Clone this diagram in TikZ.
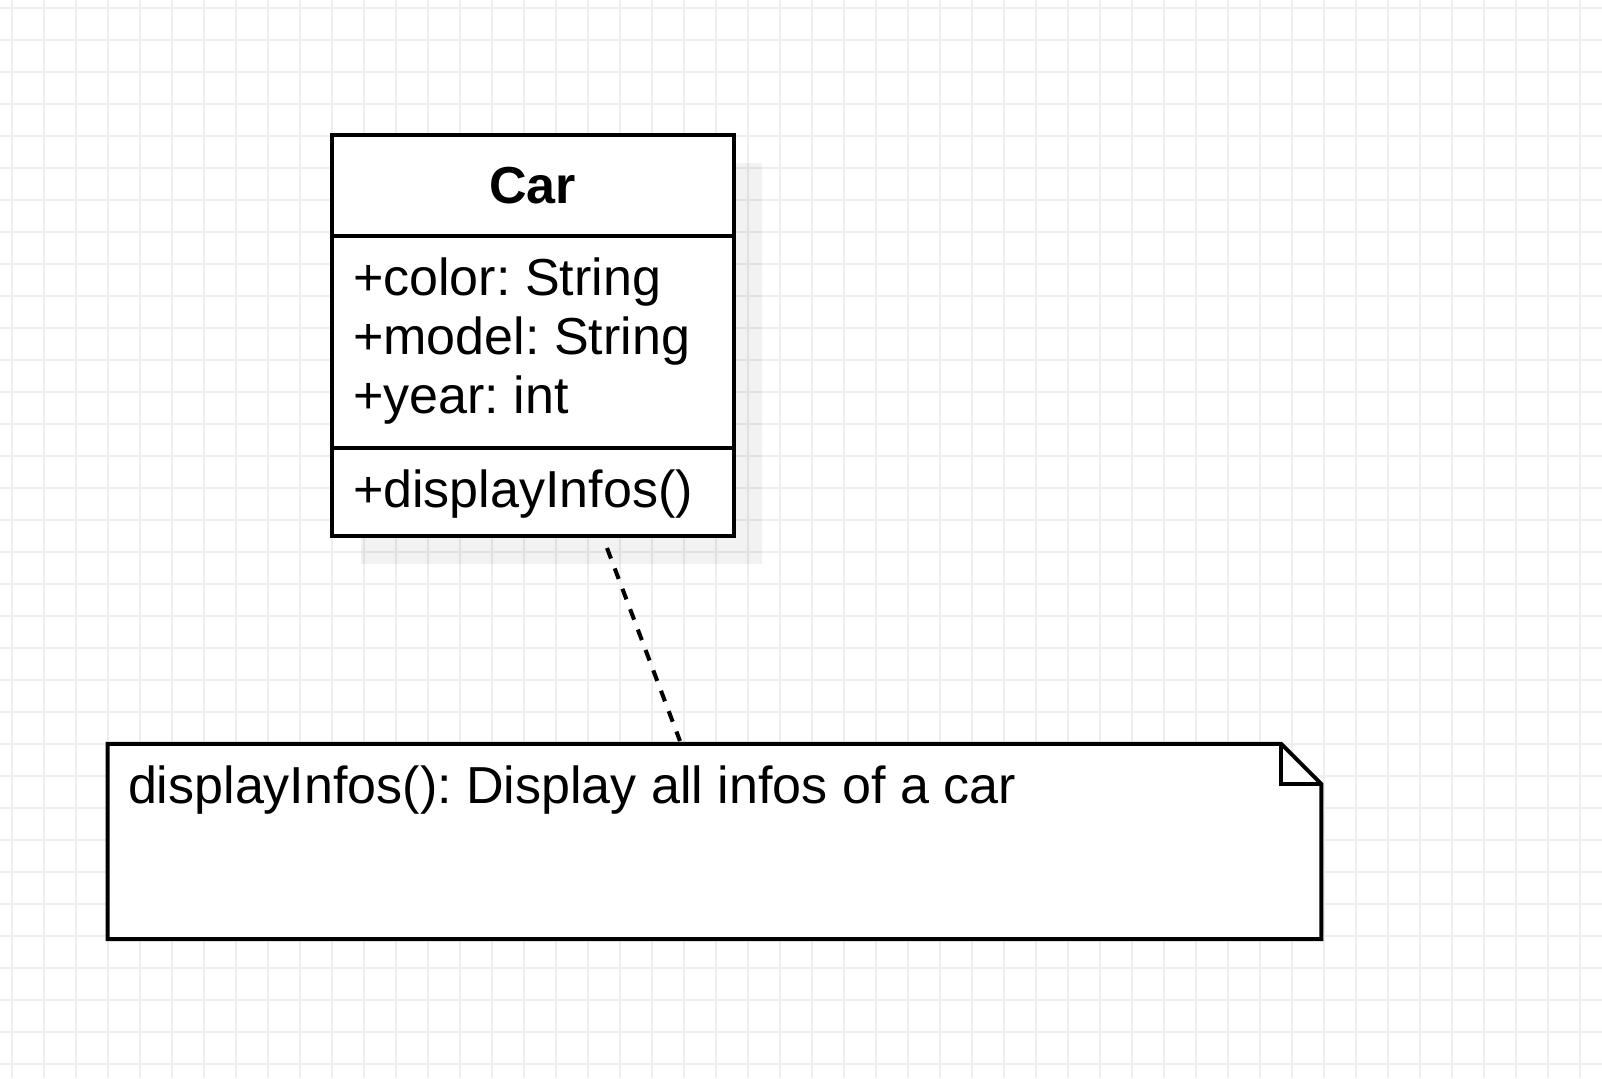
\documentclass[tikz,border=0pt]{standalone}
\usepackage{fontspec}
\setmainfont{Liberation Sans}
\usepackage{tikz}
\usetikzlibrary{arrows.meta, positioning, calc}
\definecolor{gridgray}{HTML}{EEEEEE}
\frenchspacing

\begin{document}
\begin{tikzpicture}[
  x=0.01cm, y=-0.01cm,
  every node/.style = {font=\fontsize{14.8pt}{17pt}\selectfont, inner sep=0pt, outer sep=0pt},
  gridline/.style   = {draw=gridgray, line width=0.3pt},
  umlpart/.style    = {rectangle, draw=black, fill=white, line width=1.15pt,
                       minimum width=4.015cm, minimum height=#1},
  umlshadow/.style  = {fill=black, fill opacity=0.05},
  umlline/.style    = {draw=black, line width=1.15pt, line join=miter},
  membertext/.style = {anchor=base west},
  notelink/.style   = {draw=black, line width=1.15pt, dash pattern=on 3.2pt off 3pt},
]

%% ══ BACKGROUND GRID ══════════════════════════════════════════════════════
\useasboundingbox (0,0) rectangle (1602,1078);
\fill[white] (0,0) rectangle (1602,1078);
\foreach \gx in {12,44,...,1600} \draw[gridline] (\gx,0) -- (\gx,1078);
\foreach \gy in {8,40,...,1078}  \draw[gridline] (0,\gy) -- (1602,\gy);

%% ══ CLASS: Car ═══════════════════════════════════════════════════════════
\fill[umlshadow] (360.5,163) rectangle (761.5,563.5);

\node[umlpart=1.01cm]  at (532.75,185.5) (carhead) {};
\node[umlpart=2.115cm, anchor=north] at (carhead.south) (carattrs) {};
\node[umlpart=0.88cm,  anchor=north] at (carattrs.south) (carmethods) {};

\node[anchor=base, font=\fontsize{14.8pt}{17pt}\selectfont\bfseries]
  at (532.75,203) (carname) {Car};

\node[membertext] at (353,295) (attrcolor) {+color: String};
\node[membertext] at (353,354) (attrmodel) {+model: String};
\node[membertext] at (353,413) (attryear)  {+year: int};
\node[membertext] at (353,507) (opdisplay) {+displayInfos()};

%% ══ NOTE ═════════════════════════════════════════════════════════════════
\node[rectangle, minimum width=12.13cm, minimum height=1.95cm]
  at (714.5,841.5) (note) {};
\draw[umlline, fill=white]
  (note.north west) -- ([xshift=-0.4cm]note.north east)
  -- ([yshift=-0.4cm]note.north east) -- (note.south east)
  -- (note.south west) -- cycle;
\draw[umlline]
  ([xshift=-0.4cm]note.north east) -- ([xshift=-0.4cm, yshift=-0.4cm]note.north east)
  -- ([yshift=-0.4cm]note.north east);

\node[membertext] at (128,803) (notetext) {displayInfos(): Display all infos of a car};

%% ── Dashed anchor line: method to note ───────────────────────────────────
\coordinate (linkstart) at (607,548);
\coordinate (linkend)   at (680,741);
\draw[notelink] (linkstart) -- (linkend);

\end{tikzpicture}
\end{document}
